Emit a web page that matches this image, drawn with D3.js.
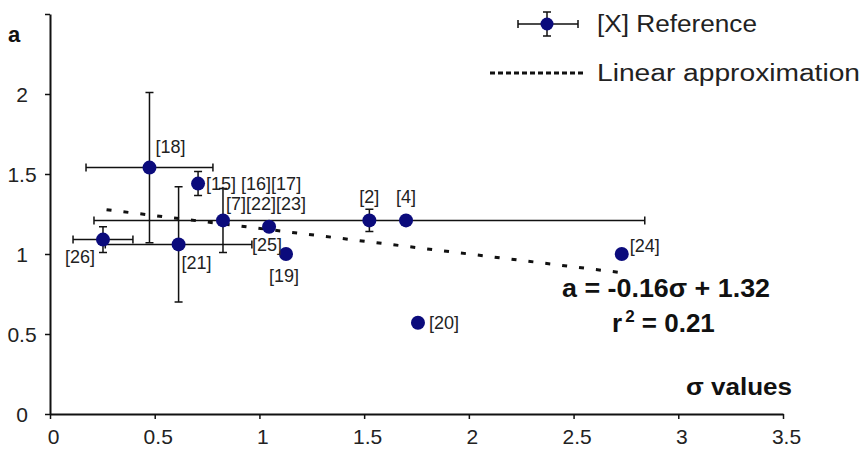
<!DOCTYPE html>
<html>
<head>
<meta charset="utf-8">
<script src="https://cdn.jsdelivr.net/npm/d3@7"></script>
<style>
  body { margin: 0; background: #fff; }
  svg { display: block; font-family: "Liberation Sans", Arial, sans-serif; }
</style>
</head>
<body>
<div id="chart"></div>
<script>
// reference points: sigma (x), a (y), half-widths of the error bars
const refs = ["[18]", "[15] [16][17]", "[7][22][23]", "[25]", "[19]", "[26]", "[21]", "[2]", "[4]", "[24]", "[20]"]
const sigma = [0.475, 0.707, 0.826, 1.046, 1.127, 0.253, 0.614, 1.525, 1.70, 2.73, 1.757]
const aVal = [1.54, 1.44, 1.21, 1.17, 1.0, 1.09, 1.06, 1.21, 1.21, 1.0, 0.57]
const sigmaErr = [0.303, 0, 0, 0, 0, 0.143, 0.35, 1.315, 0, 0, 0]
const aErr = [0.47, 0.075, 0.2, 0, 0, 0.08, 0.36, 0.07, 0, 0, 0]

// linear fit a = slope*sigma + intercept, drawn over this sigma range
const slope = -0.16
const intercept = 1.32
const fitRange = [0.27, 2.72]

const xTicks = [0, 0.5, 1, 1.5, 2, 2.5, 3, 3.5]
const yTicks = [0, 0.5, 1, 1.5, 2, 2.5]

// where each label sits relative to its dot (px)
const labelPos = [
    {dx: 6, dy: -15, anchor: "start"},
    {dx: 8, dy: 6, anchor: "start"},
    {dx: 3, dy: -10, anchor: "start"},
    {dx: -17, dy: 24, anchor: "start"},
    {dx: -17, dy: 28, anchor: "start"},
    {dx: -8, dy: 23, anchor: "end"},
    {dx: 3, dy: 25, anchor: "start"},
    {dx: 0, dy: -17, anchor: "middle"},
    {dx: 0, dy: -17, anchor: "middle"},
    {dx: 8, dy: -2, anchor: "start"},
    {dx: 11, dy: 6, anchor: "start"}
]

const width = 864, height = 450
const dotColor = "#0b0b7c"
const x = d3.scaleLinear([0, 3.5], [50, 783])
const y = d3.scaleLinear([0, 2.5], [414, 14])

const svg = d3.select("#chart").append("svg")
    .attr("width", width)
    .attr("height", height)

// axes
const xAxis = svg.append("g")
    .attr("transform", `translate(0,${y(0)})`)
    .call(d3.axisBottom(x).tickValues(xTicks).tickSize(5).tickSizeOuter(0).tickFormat(d3.format("")))
const yAxis = svg.append("g")
    .attr("transform", `translate(${x(0)},0)`)
    .call(d3.axisLeft(y).tickValues(yTicks).tickSize(5).tickSizeOuter(0)
        .tickFormat(d => d === 2.5 ? "" : d3.format("")(d)))

for (const g of [xAxis, yAxis]) {
    g.select(".domain").attr("stroke", "#111").attr("stroke-width", 2)
    g.selectAll(".tick line").attr("stroke", "#111").attr("stroke-width", 1.5)
    g.selectAll(".tick text")
        .attr("fill", "#222")
        .attr("font-family", "Liberation Sans, Arial, sans-serif")
        .attr("font-size", 21)
}
xAxis.selectAll(".tick text").attr("dx", 3).attr("dy", "1.05em")
yAxis.selectAll(".tick text").attr("text-anchor", "middle").attr("x", -28).attr("dy", "0.36em")

// regression line
svg.append("line")
    .attr("x1", x(fitRange[0])).attr("y1", y(slope * fitRange[0] + intercept))
    .attr("x2", x(fitRange[1])).attr("y2", y(slope * fitRange[1] + intercept))
    .attr("stroke", "#111")
    .attr("stroke-width", 3)
    .attr("stroke-dasharray", "5,12")

const pts = refs.map((r, i) => ({ref: r, s: sigma[i], a: aVal[i], se: sigmaErr[i], ae: aErr[i], lp: labelPos[i]}))

// error bars
const bars = svg.append("g")
    .attr("stroke", "#111")
    .attr("stroke-width", 1.5)
    .attr("fill", "none")
const cap = 4
pts.filter(d => d.se > 0).forEach(d => {
    const x0 = x(d.s - d.se), x1 = x(d.s + d.se), yy = y(d.a)
    bars.append("path").attr("d", `M${x0},${yy}H${x1}M${x0},${yy - cap}V${yy + cap}M${x1},${yy - cap}V${yy + cap}`)
})
pts.filter(d => d.ae > 0).forEach(d => {
    const y0 = y(d.a + d.ae), y1 = y(d.a - d.ae), xx = x(d.s)
    bars.append("path").attr("d", `M${xx},${y0}V${y1}M${xx - cap},${y0}H${xx + cap}M${xx - cap},${y1}H${xx + cap}`)
})

// dots
svg.append("g")
    .selectAll("circle")
    .data(pts)
    .join("circle")
    .attr("cx", d => x(d.s))
    .attr("cy", d => y(d.a))
    .attr("r", 7)
    .attr("fill", dotColor)

// labels
svg.append("g")
    .attr("font-size", 18)
    .attr("fill", "#222")
    .selectAll("text")
    .data(pts)
    .join("text")
    .attr("x", d => x(d.s) + d.lp.dx)
    .attr("y", d => y(d.a) + d.lp.dy)
    .attr("text-anchor", d => d.lp.anchor)
    .text(d => d.ref)

// axis titles
svg.append("text")
    .attr("x", 8).attr("y", 42)
    .attr("font-size", 22).attr("font-weight", "bold").attr("fill", "#111")
    .text("a")
svg.append("text")
    .attr("x", 686).attr("y", 395)
    .attr("font-size", 23).attr("font-weight", "bold").attr("fill", "#111")
    .attr("textLength", 106).attr("lengthAdjust", "spacingAndGlyphs")
    .text("σ values")

// fit equation
svg.append("text")
    .attr("x", 562).attr("y", 297)
    .attr("font-size", 26).attr("font-weight", "bold").attr("fill", "#111")
    .attr("textLength", 208).attr("lengthAdjust", "spacingAndGlyphs")
    .text(`a = ${slope.toFixed(2)}σ + ${intercept.toFixed(2)}`)
const r2 = svg.append("text")
    .attr("x", 612).attr("y", 332)
    .attr("font-size", 26).attr("font-weight", "bold").attr("fill", "#111")
r2.append("tspan").text("r")
r2.append("tspan").attr("font-size", 17).attr("dy", -10).attr("dx", 3).text("2")
r2.append("tspan").attr("dy", 10).text(" = 0.21")

// legend
const lg = svg.append("g").attr("transform", "translate(547,24)")
lg.append("path")
    .attr("d", "M-29,0H31M-29,-4V4M31,-4V4M0,-12V12M-4,-12H4M-4,12H4")
    .attr("stroke", "#111").attr("stroke-width", 1.5).attr("fill", "none")
lg.append("circle").attr("r", 6.5).attr("fill", dotColor)
lg.append("text").attr("x", 50).attr("y", 8)
    .attr("font-size", 23).attr("fill", "#222")
    .attr("textLength", 160).attr("lengthAdjust", "spacingAndGlyphs")
    .text("[X] Reference")
lg.append("line")
    .attr("x1", -57).attr("x2", 39).attr("y1", 49).attr("y2", 49)
    .attr("stroke", "#111").attr("stroke-width", 3).attr("stroke-dasharray", "5,3")
lg.append("text").attr("x", 50).attr("y", 57)
    .attr("font-size", 23).attr("fill", "#222")
    .attr("textLength", 263).attr("lengthAdjust", "spacingAndGlyphs")
    .text("Linear approximation")
</script>
</body>
</html>
